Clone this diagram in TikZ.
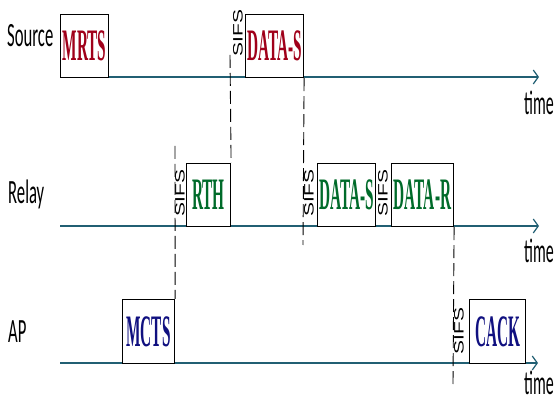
\documentclass[tikz,border=0pt]{standalone}
\usepackage{fontspec}
\setmainfont{Liberation Serif}
\newfontfamily\labelfont{Carlito}
\newfontfamily\sifsfont{Liberation Sans}
\usetikzlibrary{arrows.meta}
\definecolor{axisteal}{HTML}{215F73}
\definecolor{srcred}{HTML}{A0001A}
\definecolor{relgreen}{HTML}{006B2A}
\definecolor{apblue}{HTML}{101080}
\tikzset{
  x=1pt, y=-1pt,
  frame/.style={draw=black, line width=1.1pt, fill=white, inner sep=0pt, anchor=north west},
  axis/.style={draw=axisteal, line width=1.6pt, -{Straight Barb[length=5pt,width=14pt,line width=1.2pt]}},
  guide/.style={draw=black, line width=0.9pt, dash pattern=on 13pt off 5pt},
  stationlabel/.style={font=\labelfont\fontsize{34}{34}\selectfont, inner sep=0pt, anchor=base west},
  timelabel/.style={font=\labelfont\fontsize{34}{34}\selectfont, inner sep=0pt, anchor=base east},
  sifs/.style={font=\sifsfont\fontsize{21}{21}\selectfont, inner sep=0pt, rotate=90},
}
\newcommand{\pkt}[2]{\textcolor{#1}{\fontsize{45}{45}\selectfont\bfseries\scalebox{0.34}[1]{#2}}}
\newcommand{\narrowlab}[1]{\scalebox{0.49}[1]{#1}}
\newcommand{\sifstext}{\scalebox{1}[0.65]{SIFS}}
\begin{document}
\begin{tikzpicture}
\useasboundingbox (0,0) rectangle (557,403);

% station names
\node[stationlabel] (srcname) at (7,47) {\narrowlab{Source}};
\node[stationlabel] (relname) at (8,204) {\narrowlab{Relay}};
\node[stationlabel] (apname) at (8,343) {\narrowlab{AP}};

% time axes
\coordinate (srcstart) at (60,77);
\coordinate (srcend) at (539,77);
\coordinate (relstart) at (60,226);
\coordinate (relend) at (539,226);
\coordinate (apstart) at (60,363);
\coordinate (apend) at (538,363);
\draw[axis] (srcstart) -- (srcend);
\draw[axis] (relstart) -- (relend);
\draw[axis] (apstart) -- (apend);
\node[timelabel] (srctime) at (554,115) {\scalebox{0.47}[1]{time}};
\node[timelabel] (reltime) at (554,263) {\scalebox{0.47}[1]{time}};
\node[timelabel] (aptime) at (554,394) {\scalebox{0.47}[1]{time}};

% frames
\node[frame, minimum width=48pt, minimum height=63pt] (mrts) at (60,14) {};
\node at (mrts.center) {\pkt{srcred}{MRTS}};
\node[frame, minimum width=58pt, minimum height=63pt] (datas1) at (245,14) {};
\node at (datas1.center) {\pkt{srcred}{DATA-S}};

\node[frame, minimum width=44pt, minimum height=63pt] (rth) at (186,163) {};
\node at (rth.center) {\pkt{relgreen}{RTH}};
\node[frame, minimum width=58pt, minimum height=63pt] (datas2) at (317,163) {};
\node at (datas2.center) {\pkt{relgreen}{DATA-S}};
\node[frame, minimum width=62pt, minimum height=63pt] (datar) at (391,163) {};
\node at (datar.center) {\pkt{relgreen}{DATA-R}};

\node[frame, minimum width=52pt, minimum height=64pt] (mcts) at (122,299) {};
\node at (mcts.center) {\pkt{apblue}{MCTS}};
\node[frame, minimum width=56pt, minimum height=64pt] (cack) at (469,299) {};
\node at (cack.center) {\pkt{apblue}{CACK}};

% SIFS gaps
\node[sifs] (sifs1) at (238,33) {\sifstext};
\node[sifs] (sifs2) at (180,193) {\sifstext};
\node[sifs] (sifs3) at (309,193) {\sifstext};
\node[sifs] (sifs4) at (383,193) {\sifstext};
\node[sifs] (sifs5) at (459,331) {\sifstext};

% timing guides
\coordinate (g1top) at (230,55);
\coordinate (g2bot) at (303,245);
\coordinate (g3top) at (175,146);
\coordinate (g4bot) at (453,384);
\draw[guide] (g1top) -- (rth.north east);
\draw[guide] (datas1.south east) -- (g2bot);
\draw[guide] (g3top) -- (mcts.north east);
\draw[guide] (datar.south east) -- (g4bot);
\end{tikzpicture}
\end{document}
